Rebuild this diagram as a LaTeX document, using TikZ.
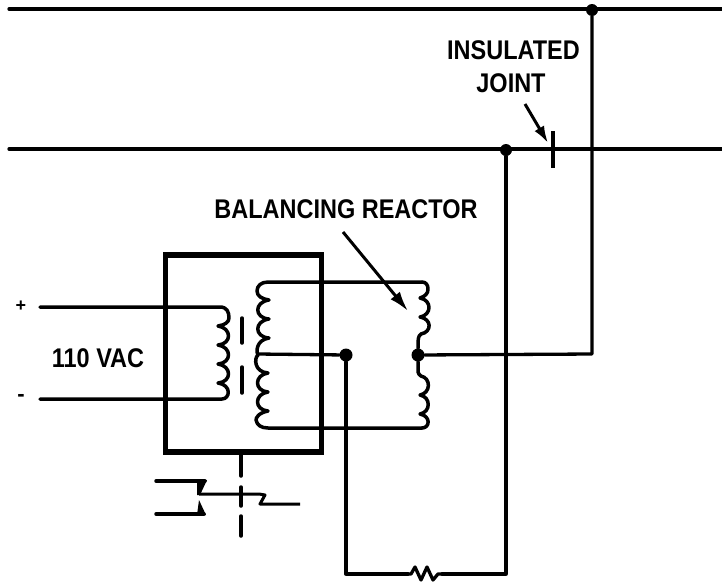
\documentclass[tikz,border=0pt]{standalone}
\usepackage{fontspec}
\setmainfont{Liberation Sans}
\usetikzlibrary{arrows.meta}
\newcommand{\lbl}[1]{\scalebox{0.87}[1]{\fontsize{27}{27}\selectfont\bfseries #1}}
\tikzset{
  x=1pt,y=-1pt,
  wire/.style={line width=3.3pt,line join=round,line cap=round},
  heavy/.style={line width=5pt,line join=round,line cap=round},
  coilw/.style={line width=3.5pt,line join=round,line cap=round},
  ptr/.style={line width=3pt,-{Latex[length=20pt,width=12pt]}},
  junction/.style={circle,fill=black,inner sep=0pt,minimum size=13pt},
  txt/.style={inner sep=0pt,text=black}
}
\begin{document}
\begin{tikzpicture}
\useasboundingbox (0,0) rectangle (722,582);
% free ends and corners
\coordinate (r1l) at (9,9); \coordinate (r1r) at (722,9);
\coordinate (r2l) at (9,149); \coordinate (r2r) at (722,149);
\node[junction,minimum size=12pt] (d1) at (592,10) {};
\node[junction,minimum size=12pt] (d2) at (506,150) {};
\node[junction] (dm) at (346,355) {};
\node[junction] (dr) at (418,355) {};
\coordinate (c1) at (592,354);
\coordinate (c2) at (506,574);
\coordinate (c3) at (346,574);
\coordinate (resl) at (408,574);
\coordinate (resr) at (442,574);
% rails
\draw[wire] (r1l) -- (r1r);
\draw[wire] (r2l) -- (r2r);
\draw[wire] (d1) -- (c1) -- (dr);
\draw[wire] (d2) -- (c2) -- (resr);
\draw[wire] (dm) -- (c3) -- (resl);
\draw[wire] (resl) -- ++(3,0) -- ++(4,-7) -- ++(6,13) -- ++(6,-13) -- ++(6,13) -- ++(5,-6) -- (resr);
% insulated joint
\coordinate (jt) at (553,131); \coordinate (jb) at (553,168);
\draw[line width=3.3pt] (jt) -- (jb);
% transformer box
\node[draw,line width=5.5pt,minimum width=156pt,minimum height=197pt,inner sep=0pt] (box) at (243.5,353.5) {};
% primary
\coordinate (pa) at (40,307); \coordinate (pb) at (40,399);
\draw[coilw] (pa) -- (220,307) .. controls (227,307) and (229,312) .. (229,318) .. controls (229,322) and (225,325) .. (218,326)
  .. controls (232,328) and (232,344) .. (218,345)
  .. controls (232,347) and (232,363) .. (218,364)
  .. controls (232,366) and (232,382) .. (218,383)
  .. controls (232,385) and (230,399) .. (222,399) -- (pb);
% core
\draw[line width=3.5pt,line cap=round] (242,318) -- (242,343);
\draw[line width=3.5pt,line cap=round] (242,367) -- (242,393);
% secondary
\coordinate (stop) at (422,282); \coordinate (sbot) at (422,428);
\draw[coilw] (stop) -- (268,282) .. controls (261,282) and (257,286) .. (257,291) .. controls (257,296) and (262,299) .. (269,300)
  .. controls (254,302) and (254,318) .. (269,319)
  .. controls (254,321) and (254,337) .. (269,338)
  .. controls (256,340) and (256,352) .. (258,355)
  .. controls (254,358) and (254,372) .. (268,373)
  .. controls (254,375) and (254,391) .. (268,392)
  .. controls (254,394) and (254,410) .. (268,411)
  .. controls (258,413) and (256,418) .. (256,420) .. controls (257,425) and (261,428) .. (268,428) -- (sbot);
\draw[wire] (258,354) -- (dm);
% reactor
\draw[coilw] (stop) .. controls (426,282) and (428,285) .. (428,289) .. controls (428,293) and (426,296) .. (420,298)
  .. controls (432,300) and (432,315) .. (420,317)
  .. controls (432,319) and (432,332) .. (421,334)
  .. controls (418,336) and (418,340) .. (418,346) -- (dr);
\draw[coilw] (dr) -- (418,372) .. controls (418,374) and (420,375) .. (421,376)
  .. controls (431,378) and (431,393) .. (420,395)
  .. controls (431,397) and (431,412) .. (420,414)
  .. controls (431,416) and (430,428) .. (sbot);
% pointers
\coordinate (ba) at (343,232); \coordinate (bb) at (408,311);
\draw[ptr] (ba) -- (bb);
\coordinate (ja) at (525,104); \coordinate (jc) at (548,143);
\draw[ptr,-{Latex[length=17pt,width=11pt]}] (ja) -- (jc);
% contact and dashed link
\coordinate (k1) at (241,454); \coordinate (k2) at (241,476);
\coordinate (k3) at (241,487); \coordinate (k4) at (241,506);
\coordinate (k5) at (241,516); \coordinate (k6) at (241,536);
\draw[line width=3.5pt,line cap=round] (k1) -- (k2);
\draw[line width=3.5pt,line cap=round] (k3) -- (k4);
\draw[line width=3.5pt,line cap=round] (k5) -- (k6);
\coordinate (ct) at (156,481); \coordinate (cb) at (156,514); \coordinate (cr) at (300,504);
\draw[line width=3.5pt,line cap=round,line join=round] (ct) -- (205,481);
\fill (197,480) -- (207,480) -- (200,495) -- (197,495) -- cycle;
\draw[line width=3pt,line join=round] (199,494) -- (259,494) -- (265,495) -- (260,504) -- (cr);
\draw[line width=3.5pt,line cap=round] (cb) -- (204,514);
\fill (199,500) -- (206,515) -- (197,515) -- cycle;
% labels
\node[txt] (ins) at (513.5,50) {\lbl{INSULATED}};
\node[txt] (joi) at (511,83) {\lbl{JOINT}};
\node[txt] (bal) at (346,209) {\lbl{BALANCING REACTOR}};
\node[txt] (vac) at (98,358) {\lbl{110 VAC}};
\node[txt] (plus) at (21,306) {\fontsize{18}{18}\selectfont\bfseries +};
\node[txt] (minus) at (21,398) {\fontsize{22}{22}\selectfont\bfseries -};
\end{tikzpicture}
\end{document}
